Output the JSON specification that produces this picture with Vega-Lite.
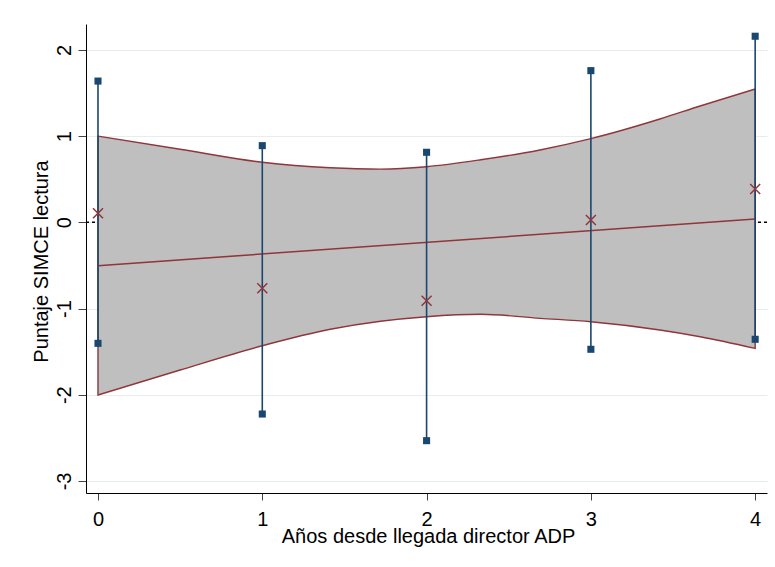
{
  "$schema": "https://vega.github.io/schema/vega-lite/v6.json",
  "autosize": {"type": "none"},
  "padding": {"left": 86, "top": 24, "right": 8, "bottom": 74},
  "width": 681,
  "height": 469,
  "background": "white",
  "config": {
    "font": "Liberation Sans",
    "view": {"stroke": null},
    "axis": {
      "domainColor": "black",
      "domainWidth": 1,
      "tickColor": "#444444",
      "tickWidth": 1,
      "labelColor": "black",
      "labelFont": "Liberation Sans",
      "labelFontSize": 20,
      "titleFont": "Liberation Sans",
      "titleFontSize": 20,
      "titleFontWeight": "normal",
      "titleColor": "black"
    }
  },
  "datasets": {
    "band": [
      {"x": 0, "hi": 1.0, "lo": -2.003},
      {"x": 0.5, "hi": 0.847, "lo": -1.713},
      {"x": 1, "hi": 0.696, "lo": -1.432},
      {"x": 1.414, "hi": 0.633, "lo": -1.241},
      {"x": 1.72, "hi": 0.617, "lo": -1.148},
      {"x": 2, "hi": 0.645, "lo": -1.095},
      {"x": 2.33, "hi": 0.725, "lo": -1.067},
      {"x": 2.69, "hi": 0.839, "lo": -1.114},
      {"x": 3, "hi": 0.97, "lo": -1.153},
      {"x": 3.42, "hi": 1.198, "lo": -1.249},
      {"x": 3.665, "hi": 1.349, "lo": -1.327},
      {"x": 4, "hi": 1.546, "lo": -1.462}
    ],
    "fit": [
      {"x": 0, "y": -0.503},
      {"x": 4, "y": 0.038}
    ],
    "est": [
      {"x": 0, "est": 0.104, "lo": -1.404, "hi": 1.638},
      {"x": 1, "est": -0.766, "lo": -2.224, "hi": 0.889},
      {"x": 2, "est": -0.909, "lo": -2.533, "hi": 0.812},
      {"x": 3, "est": 0.027, "lo": -1.473, "hi": 1.759},
      {"x": 4, "est": 0.386, "lo": -1.357, "hi": 2.158}
    ],
    "zero": [{"y": 0}]
  },
  "layer": [
    {
      "data": {"name": "zero"},
      "mark": {"type": "rule", "color": "black", "strokeWidth": 1.5, "strokeDash": [3, 3]},
      "encoding": {
        "y": {
          "field": "y", "type": "quantitative",
          "scale": {"domain": [-3.14, 2.3], "nice": false, "zero": false},
          "axis": {
            "values": [-3, -2, -1, 0, 1, 2],
            "labelExpr": "'' + datum.value",
            "grid": true,
            "gridColor": "#e5edf0",
            "gridWidth": 1,
            "tickSize": 8,
            "labelAngle": 270,
            "labelAlign": "center",
            "labelBaseline": "alphabetic",
            "labelPadding": 8,
            "title": "Puntaje SIMCE lectura",
            "titleAngle": 270,
            "titleAlign": "center",
            "titleBaseline": "alphabetic",
            "titleX": -39,
            "titleY": 237
          }
        }
      }
    },
    {
      "data": {"name": "band"},
      "mark": {"type": "area", "interpolate": "monotone", "fill": "#bfbfbf", "fillOpacity": 1, "stroke": "#90353b", "strokeWidth": 1.4},
      "encoding": {
        "x": {
          "field": "x", "type": "quantitative",
          "scale": {"domain": [-0.073, 4.072], "nice": false, "zero": false},
          "axis": {
            "values": [0, 1, 2, 3, 4],
            "labelExpr": "'' + datum.value",
            "grid": false,
            "tickSize": 7,
            "labelPadding": 9,
            "labelAngle": 0,
            "title": "Años desde llegada director ADP",
            "titleX": 342,
            "titleY": 49,
            "titleBaseline": "alphabetic",
            "titleAlign": "center"
          }
        },
        "y": {"field": "hi", "type": "quantitative"},
        "y2": {"field": "lo"}
      }
    },
    {
      "data": {"name": "fit"},
      "mark": {"type": "line", "color": "#90353b", "strokeWidth": 1.5},
      "encoding": {
        "x": {"field": "x", "type": "quantitative"},
        "y": {"field": "y", "type": "quantitative"}
      }
    },
    {
      "data": {"name": "est"},
      "mark": {"type": "rule", "color": "#1a476f", "strokeWidth": 1.6},
      "encoding": {
        "x": {"field": "x", "type": "quantitative"},
        "y": {"field": "lo", "type": "quantitative"},
        "y2": {"field": "hi"}
      }
    },
    {
      "data": {"name": "est"},
      "mark": {"type": "point", "shape": "square", "filled": true, "color": "#1a476f", "opacity": 1, "size": 50},
      "encoding": {
        "x": {"field": "x", "type": "quantitative"},
        "y": {"field": "hi", "type": "quantitative"}
      }
    },
    {
      "data": {"name": "est"},
      "mark": {"type": "point", "shape": "square", "filled": true, "color": "#1a476f", "opacity": 1, "size": 50},
      "encoding": {
        "x": {"field": "x", "type": "quantitative"},
        "y": {"field": "lo", "type": "quantitative"}
      }
    },
    {
      "data": {"name": "est"},
      "mark": {"type": "point", "shape": "M-1,-1L1,1M1,-1L-1,1", "filled": false, "stroke": "#90353b", "strokeWidth": 1.5, "opacity": 1, "size": 100},
      "encoding": {
        "x": {"field": "x", "type": "quantitative"},
        "y": {"field": "est", "type": "quantitative"}
      }
    }
  ]
}
